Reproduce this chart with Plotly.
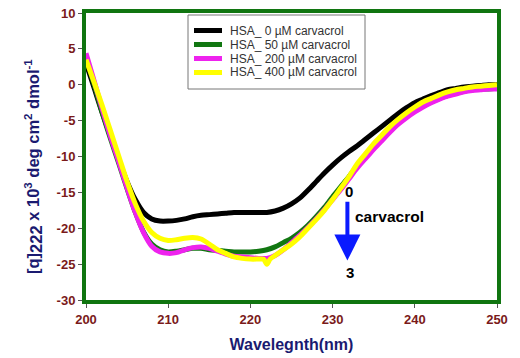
import plotly.graph_objects as go

wavelength = list(range(200, 251))
wl_yellow = list(range(200, 222)) + [221.6, 222, 222.4] + list(range(223, 251))

hsa_0 = [3.0, -0.5, -4.0, -7.2, -10.5, -13.5, -16.0, -17.8, -18.7, -19.0,
         -19.0, -18.9, -18.7, -18.4, -18.2, -18.1, -18.0, -17.9, -17.8, -17.8,
         -17.8, -17.8, -17.8, -17.6, -17.2, -16.6, -15.8, -14.7, -13.5, -12.3,
         -11.2, -10.2, -9.3, -8.5, -7.6, -6.7, -5.8, -4.9, -4.0, -3.2,
         -2.5, -2.0, -1.5, -1.1, -0.7, -0.5, -0.3, -0.2, -0.1, 0.0, 0.0]
hsa_50 = [3.8, 0.0, -4.0, -7.6, -11.0, -14.5, -17.8, -20.5, -22.2, -23.0,
          -23.3, -23.2, -23.0, -22.8, -22.8, -23.0, -23.1, -23.2, -23.3, -23.3,
          -23.3, -23.2, -23.0, -22.6, -22.0, -21.4, -20.6, -19.6, -18.4, -17.1,
          -15.6, -14.2, -12.8, -11.3, -10.0, -8.7, -7.5, -6.4, -5.3, -4.4,
          -3.6, -3.0, -2.4, -1.9, -1.5, -1.2, -0.9, -0.7, -0.6, -0.6, -0.5]
hsa_200 = [4.4, 0.5, -3.5, -7.3, -10.8, -14.4, -17.8, -20.6, -22.5, -23.3,
           -23.5, -23.4, -23.0, -22.7, -22.6, -22.8, -23.2, -23.6, -23.9, -24.0,
           -24.1, -24.2, -24.2, -23.8, -23.0, -22.0, -21.0, -19.9, -18.7, -17.4,
           -16.0, -14.6, -13.1, -11.6, -10.3, -9.0, -7.8, -6.6, -5.5, -4.6,
           -3.8, -3.1, -2.5, -2.0, -1.6, -1.3, -1.0, -0.8, -0.7, -0.6, -0.6]
hsa_400 = [3.5, 0.3, -3.0, -6.5, -10.0, -13.5, -16.6, -19.0, -20.6, -21.4,
           -21.7, -21.6, -21.4, -21.3, -21.5, -22.2, -23.0, -23.5, -24.0, -24.2,
           -24.3, -24.3, -24.3, -25.0, -24.3, -23.8, -23.0, -22.2, -21.2, -20.0,
           -18.8, -17.5, -16.0, -14.4, -12.8, -11.0, -9.6, -8.2, -7.0, -5.8,
           -4.8, -3.9, -3.1, -2.4, -1.9, -1.4, -1.0, -0.7, -0.5, -0.3, -0.2,
           -0.1, 0.0]

series_names = ["HSA_ 0 µM carvacrol", "HSA_ 50 µM carvacrol",
                "HSA_ 200 µM carvacrol", "HSA_ 400 µM carvacrol"]
series_colors = ["#000000", "#117711", "#ee22ee", "#ffff00"]

x_ticks = [200, 210, 220, 230, 240, 250]
x_ticktext = ["200", "210", "220", "230", "240", "250"]
y_ticks = [-30, -25, -20, -15, -10, -5, 0, 5, 10]
y_ticktext = ["-30", "-25", "-20", "-15", "-10", "-5", "0", "5", "10"]

# layout geometry (pixels)
W, H = 520, 358
ML, MR, MT, MB = 86, 23, 13, 58
PW, PH = W - ML - MR, H - MT - MB


def px_to_paper(px, py):
    return (px - ML) / PW, 1 - (py - MT) / PH


fig = go.Figure()
xs = [wavelength, wavelength, wavelength, wl_yellow]
ys = [hsa_0, hsa_50, hsa_200, hsa_400]
for name, col, xv, yv in zip(series_names, series_colors, xs, ys):
    fig.add_trace(go.Scatter(x=xv, y=yv, name=name, mode="lines", showlegend=False,
                             line=dict(color=col, width=5, shape="spline", smoothing=0.8)))

tick_font = dict(family="Liberation Sans", size=13, color="#7a1a1a", weight="bold")
fig.update_xaxes(range=[200, 250], tickvals=x_ticks, ticktext=x_ticktext,
                 showgrid=False, zeroline=False, showline=True, mirror=True,
                 linecolor="#107510", linewidth=4, ticks="outside", ticklen=4,
                 tickcolor="#555555", tickfont=tick_font, automargin=False,
                 title=dict(text="<b>Wavelegnth(nm)</b>", standoff=14,
                            font=dict(family="Liberation Sans", size=16, color="#1a1a70")))
fig.update_yaxes(range=[-30, 10], tickvals=y_ticks, ticktext=y_ticktext,
                 showgrid=False, zeroline=False, showline=True, mirror=True,
                 linecolor="#107510", linewidth=4, ticks="outside", ticklen=4,
                 tickcolor="#555555", tickfont=tick_font, automargin=False)

# y-axis title
tx, ty = px_to_paper(33, 167)
fig.add_annotation(xref="paper", yref="paper", x=tx, y=ty, textangle=-90,
                   showarrow=False, xanchor="center", yanchor="middle",
                   text="<b>[q]<sub><span style='font-size:16.5px'>222</span></sub> x 10<sup>3</sup> deg cm<sup>2</sup> dmol<sup>-1</sup></b>",
                   font=dict(family="Liberation Sans", size=16.5, color="#1a1a70"))

# legend box drawn to match the original's compact layout
bx0, by0 = px_to_paper(188, 15)
bx1, by1 = px_to_paper(365, 89)
fig.add_shape(type="rect", xref="paper", yref="paper", x0=bx0, y0=by1, x1=bx1, y1=by0,
              line=dict(color="#777777", width=1), fillcolor="white", layer="above")
for i, (name, col) in enumerate(zip(series_names, series_colors)):
    rowy = 30.5 + 14 * i
    lx0, ly = px_to_paper(194, rowy)
    lx1, _ = px_to_paper(222, rowy)
    tx0, _ = px_to_paper(228, rowy)
    fig.add_shape(type="line", xref="paper", yref="paper", x0=lx0, x1=lx1, y0=ly, y1=ly,
                  line=dict(color=col, width=5), layer="above")
    fig.add_annotation(xref="paper", yref="paper", x=tx0, y=ly, text=name,
                       showarrow=False, xanchor="left", yanchor="middle",
                       font=dict(family="Liberation Sans", size=12, color="#333333"))

fig.add_annotation(x=232.0, y=-14.9, text="<b>0</b>", showarrow=False,
                   font=dict(family="Liberation Sans", size=15, color="black"))
fig.add_annotation(x=232.1, y=-26.2, text="<b>3</b>", showarrow=False,
                   font=dict(family="Liberation Sans", size=15, color="black"))
fig.add_annotation(x=232.5, y=-18.4, text="<b>carvacrol</b>", showarrow=False,
                   xanchor="left", font=dict(family="Liberation Sans", size=15.5, color="black"))
fig.add_annotation(x=231.8, y=-24.5, ax=231.8, ay=-16.1, axref="x", ayref="y",
                   xref="x", yref="y", text="", showarrow=True, arrowhead=2,
                   arrowsize=1.3, arrowwidth=4, arrowcolor="#0a1aff")

fig.update_layout(
    width=W, height=H,
    margin=dict(l=ML, r=MR, t=MT, b=MB, autoexpand=False),
    paper_bgcolor="white", plot_bgcolor="white",
    showlegend=False,
)

fig.write_html("out.html", config={"displayModeBar": False},
               post_script="document.body.style.margin='0';document.body.style.overflow='hidden';")
